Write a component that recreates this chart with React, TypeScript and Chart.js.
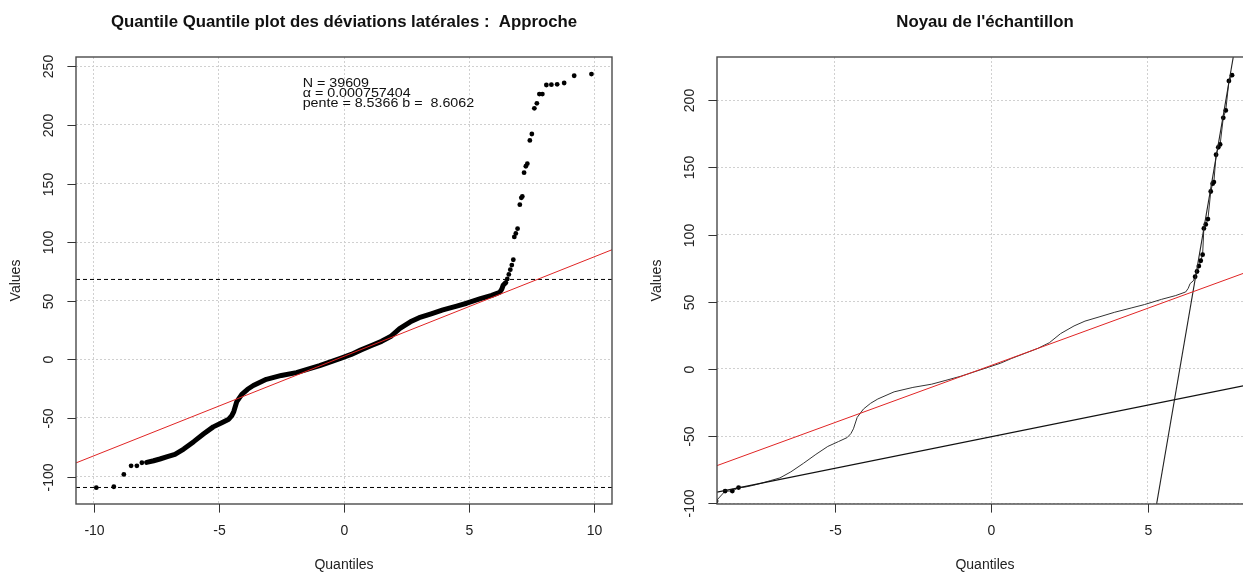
import React, { useEffect, useRef } from "react";
import { Chart, registerables } from "chart.js";

Chart.register(...registerables);

// ---------- data ----------
const lowerTailX = [-9.89, -9.19, -8.79, -8.5, -8.27, -8.07];
const lowerTailY = [-109.5, -108.7, -98.2, -90.8, -90.8, -88.2];

const curveX = [
  -7.88, -7.6, -7.35, -7.05, -6.75, -6.4, -6.0, -5.6, -5.22, -4.88, -4.6, -4.48, -4.4, -4.28,
  -4.08, -3.85, -3.62, -3.1, -2.5, -1.9, -1.47, -0.97, -0.14, 0.29, 0.66, 1.1, 1.5, 1.86, 2.22,
  2.65, 3.0, 3.48, 3.95, 4.5, 4.9, 5.45, 5.9, 6.22, 6.3, 6.36, 6.46,
];
const curveY = [
  -87.9, -86.5, -85, -83, -81, -76.5, -70.2, -63.5, -57.6, -54, -51, -48, -44.5, -36, -29.8,
  -25.5, -22.3, -17, -13.7, -11.3, -8.6, -5.4, 0.9, 4.2, 7.9, 11.8, 15.4, 19.5, 26.3, 32, 35.6,
  38.9, 42.2, 45.5, 47.9, 51.8, 54.6, 57.3, 60, 63.5, 65.5,
];

const upperTailX = [
  6.52, 6.58, 6.64, 6.7, 6.76, 6.8, 6.86, 6.93, 7.02, 7.08, 7.12, 7.19, 7.26, 7.32, 7.42, 7.5,
  7.6, 7.7,
];
const upperTailY = [
  68.6, 72.5, 76.5, 80.5, 85, 104.5, 107.5, 111.5, 132, 137.8, 139, 159.3, 164.8, 167, 186.8,
  192.3, 214.2, 218.5,
];

// extreme points, only shown on the full Q-Q plot
const extremeX = [7.8, 7.92, 8.08, 8.28, 8.51, 8.79, 9.19, 9.88];
const extremeY = [226.4, 226.4, 234.1, 234.4, 234.7, 235.8, 242, 243.4];

// reference lines (intercept, slope)
const redLine = { intercept: 2.6, slope: 8.5 };
const lowLine = { intercept: -50.4, slope: 4.7 };
const steepLine = { intercept: -818.2, slope: 135.7 };
const dashedLevels = [68.2, -109.3];

// axes
const leftXTicks = [-10, -5, 0, 5, 10];
const leftYTicks = [-100, -50, 0, 50, 100, 150, 200, 250];
const rightXTicks = [-5, 0, 5];
const rightYTicks = [-100, -50, 0, 50, 100, 150, 200];
const leftXRange = [-10.7, 10.7];
const leftYRange = [-123.4, 258];
const rightXRange = [-8.76, 8.37];
const rightYRange = [-100.4, 232];

// texts
const leftTitle = "Quantile Quantile plot des déviations latérales :  Approche";
const rightTitle = "Noyau de l'échantillon";
const xLabel = "Quantiles";
const yLabel = "Values";
const annotationLines = ["N = 39609", "α = 0.000757404", "pente = 8.5366 b =  8.6062"];
const annotationAt = { x: -1.65, y: 232 };

// ---------- helpers ----------
const FONT = '"Liberation Sans", Arial, Helvetica, sans-serif';

const pts = (xs: number[], ys: number[]) => xs.map((x, i) => ({ x, y: ys[i] }));
const abline = (l: { intercept: number; slope: number }, r: number[]) => [
  { x: r[0], y: l.intercept + l.slope * r[0] },
  { x: r[1], y: l.intercept + l.slope * r[1] },
];
const hline = (v: number, r: number[]) => [
  { x: r[0], y: v },
  { x: r[1], y: v },
];

function scaleOpts(range: number[], ticks: number[]) {
  return {
    type: "linear" as const,
    min: range[0],
    max: range[1],
    afterBuildTicks: (axis: any) => {
      axis.ticks = ticks.map((v) => ({ value: v }));
    },
    ticks: { display: false },
    grid: { color: "#d0d0d0", lineWidth: 1, drawTicks: false },
    border: { display: false, dash: [2, 2] },
  };
}

function rAxesPlugin(title: string, annotation: boolean) {
  return {
    id: "rAxes",
    afterDatasetsDraw(chart: any) {
      const { ctx, chartArea: a, scales } = chart;
      const xs = scales.x;
      const ys = scales.y;
      ctx.save();
      // box
      ctx.strokeStyle = "#4a4a4a";
      ctx.lineWidth = 1.4;
      ctx.strokeRect(a.left, a.top, a.right - a.left, a.bottom - a.top);

      ctx.lineWidth = 1;
      ctx.strokeStyle = "#333";
      ctx.fillStyle = "#222";
      ctx.font = `14px ${FONT}`;
      ctx.textAlign = "center";
      ctx.textBaseline = "middle";
      xs.ticks.forEach((t: any) => {
        const px = Math.round(xs.getPixelForValue(t.value)) + 0.5;
        ctx.beginPath();
        ctx.moveTo(px, a.bottom);
        ctx.lineTo(px, a.bottom + 8.6);
        ctx.stroke();
        ctx.fillText(String(t.value), px, a.bottom + 27);
      });
      ys.ticks.forEach((t: any) => {
        const py = Math.round(ys.getPixelForValue(t.value)) + 0.5;
        ctx.beginPath();
        ctx.moveTo(a.left, py);
        ctx.lineTo(a.left - 8.6, py);
        ctx.stroke();
        ctx.save();
        ctx.translate(a.left - 26.6, py);
        ctx.rotate(-Math.PI / 2);
        ctx.fillText(String(t.value), 0, 0);
        ctx.restore();
      });
      const cx = (a.left + a.right) / 2;
      const cy = (a.top + a.bottom) / 2;
      ctx.fillText(xLabel, cx, 565.5);
      ctx.save();
      ctx.translate(a.left - 60, cy);
      ctx.rotate(-Math.PI / 2);
      ctx.fillText(yLabel, 0, 0);
      ctx.restore();

      ctx.fillStyle = "#111";
      ctx.font = `bold 16.8px ${FONT}`;
      ctx.fillText(title, cx, 22.7);

      if (annotation) {
        ctx.fillStyle = "#111";
        ctx.font = `12px ${FONT}`;
        ctx.textAlign = "left";
        ctx.textBaseline = "alphabetic";
        const ax = xs.getPixelForValue(annotationAt.x);
        const ay = ys.getPixelForValue(annotationAt.y);
        annotationLines.forEach((line, i) => {
          ctx.save();
          ctx.translate(ax, ay + i * 9.7);
          ctx.scale(1.19, 1);
          ctx.fillText(line, 0, 0);
          ctx.restore();
        });
      }
      ctx.restore();
    },
  };
}

const lineDs = (data: any[], color: string, width: number, extra: any = {}) => ({
  data,
  showLine: true,
  borderColor: color,
  borderWidth: width,
  pointRadius: 0,
  pointHoverRadius: 0,
  fill: false,
  ...extra,
});

const dotDs = (data: any[]) => ({
  data,
  showLine: false,
  pointRadius: 2.4,
  pointBorderWidth: 0,
  pointBackgroundColor: "#000",
  backgroundColor: "#000",
  borderColor: "#000",
});

const RED = "#e02424";

function leftConfig(): any {
  return {
    type: "scatter",
    data: {
      datasets: [
        lineDs(abline(redLine, leftXRange), RED, 1),
        lineDs(hline(dashedLevels[0], leftXRange), "#000", 1, { borderDash: [4, 3] }),
        lineDs(hline(dashedLevels[1], leftXRange), "#000", 1, { borderDash: [4, 3] }),
        dotDs([
          ...pts(lowerTailX, lowerTailY),
          ...pts(upperTailX, upperTailY),
          ...pts(extremeX, extremeY),
        ]),
        lineDs(pts(curveX, curveY), "#000", 5, {
          borderCapStyle: "round",
          borderJoinStyle: "round",
        }),
      ],
    },
    options: {
      responsive: false,
      animation: false,
      devicePixelRatio: 1,
      layout: { padding: { left: 76, right: 8, top: 57, bottom: 68 } },
      plugins: { legend: { display: false }, tooltip: { enabled: false }, title: { display: false } },
      scales: { x: scaleOpts(leftXRange, leftXTicks), y: scaleOpts(leftYRange, leftYTicks) },
      events: [],
    },
    plugins: [rAxesPlugin(leftTitle, true)],
  };
}

function rightConfig(): any {
  const all = [
    ...pts(lowerTailX, lowerTailY),
    ...pts(curveX, curveY),
    ...pts(upperTailX, upperTailY),
  ];
  return {
    type: "scatter",
    data: {
      datasets: [
        lineDs(abline(redLine, rightXRange), RED, 1),
        lineDs(abline(lowLine, rightXRange), "#111", 1.1),
        lineDs(abline(steepLine, rightXRange), "#222", 1.1),
        dotDs([...pts(lowerTailX, lowerTailY), ...pts(upperTailX, upperTailY)]),
        lineDs(all, "#333", 1),
      ],
    },
    options: {
      responsive: false,
      animation: false,
      devicePixelRatio: 1,
      layout: { padding: { left: 97, right: 27, top: 57, bottom: 68 } },
      plugins: { legend: { display: false }, tooltip: { enabled: false }, title: { display: false } },
      scales: { x: scaleOpts(rightXRange, rightXTicks), y: scaleOpts(rightYRange, rightYTicks) },
      events: [],
    },
    plugins: [rAxesPlugin(rightTitle, false)],
  };
}

export default function App() {
  const leftRef = useRef<HTMLCanvasElement>(null);
  const rightRef = useRef<HTMLCanvasElement>(null);

  useEffect(() => {
    const c1 = new Chart(leftRef.current as HTMLCanvasElement, leftConfig());
    const c2 = new Chart(rightRef.current as HTMLCanvasElement, rightConfig());
    return () => {
      c1.destroy();
      c2.destroy();
    };
  }, []);

  return (
    <div
      style={{
        position: "fixed",
        left: 0,
        top: 0,
        width: 1243,
        height: 572,
        overflow: "hidden",
        background: "#fff",
      }}
    >
      <canvas
        ref={leftRef}
        width={620}
        height={572}
        style={{ position: "absolute", left: 0, top: 0, width: 620, height: 572 }}
      />
      <canvas
        ref={rightRef}
        width={660}
        height={572}
        style={{ position: "absolute", left: 620, top: 0, width: 660, height: 572 }}
      />
    </div>
  );
}
